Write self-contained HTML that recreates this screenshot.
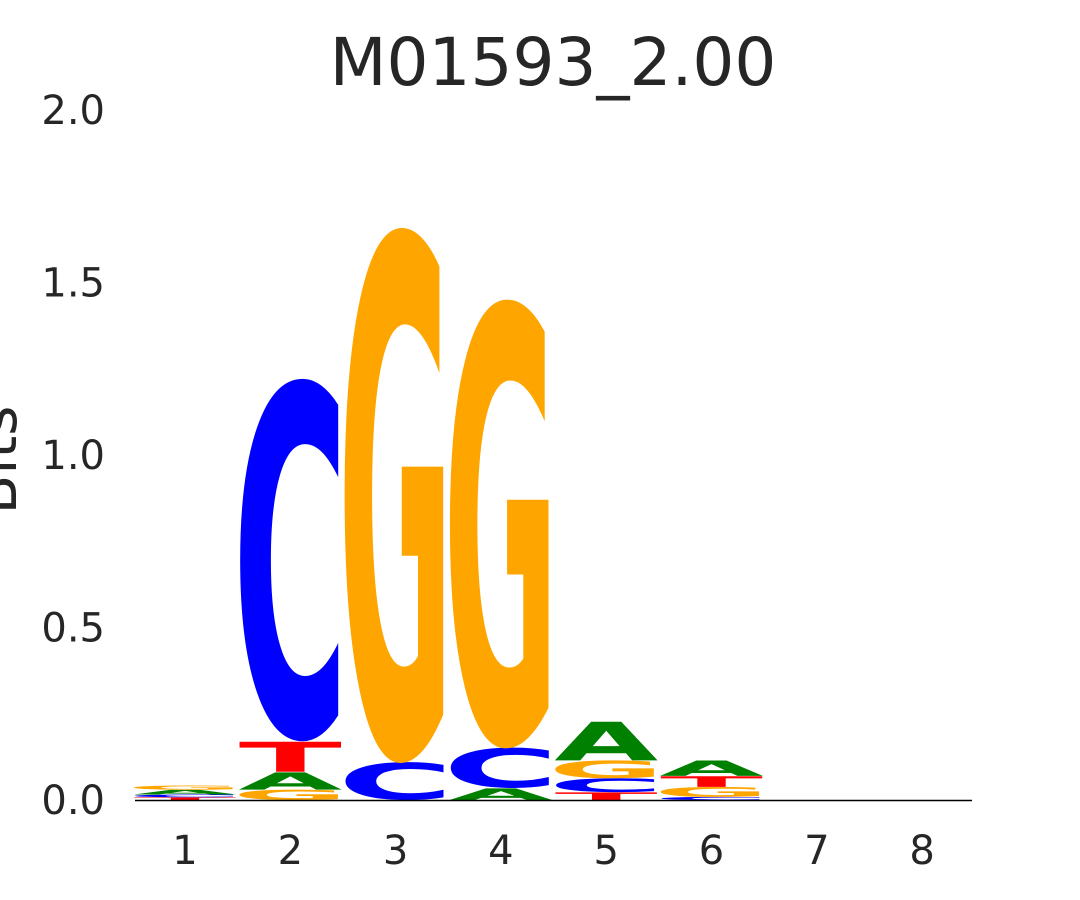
<!DOCTYPE html>
<html><head><meta charset="utf-8"><style>
html,body{margin:0;padding:0;background:#fff;width:1080px;height:900px;overflow:hidden;}
svg{display:block;font-family:"DejaVu Sans","Liberation Sans",sans-serif;overflow:hidden;}
</style></head><body>
<svg id="chart" width="1080" height="900" viewBox="0 0 1080 900">
  <text x="553" y="85" font-size="66" fill="#262626" text-anchor="middle">M01593_2.00</text>
  <text transform="translate(16,460) rotate(-90)" font-size="58" fill="#262626" text-anchor="middle">Bits</text>
  <g id="yticks"></g>
  <g id="xticks"></g>
  <g id="letters"></g>
  <line x1="135" y1="800.5" x2="972" y2="800.5" stroke="#000" stroke-width="1.5"/>
</svg>
<script>
const positions = [1,2,3,4,5,6,7,8];
const yTicks = [0.0,0.5,1.0,1.5,2.0];
// stacks bottom-to-top: [letter, bits]
const stacks = [
  [["T",0.008],["C",0.008],["A",0.014],["G",0.012]],
  [["G",0.03],["A",0.052],["T",0.09],["C",1.05]],
  [["C",0.11],["G",1.55]],
  [["A",0.035],["C",0.117],["G",1.3]],
  [["T",0.023],["C",0.04],["G",0.052],["A",0.116]],
  [["C",0.009],["G",0.029],["T",0.032],["A",0.046]],
  [],
  []
];
const colors = {A:"#008000",C:"#0000ff",G:"#ffa500",T:"#ff0000"};
const NS="http://www.w3.org/2000/svg";
const y0=800, pxPerBit=345;
const yScale = v => y0 - v*pxPerBit;
const xScale = p => 185 + (p-1)*105.3;
const colW = 100;
const yt=document.getElementById('yticks');
yTicks.forEach(v=>{
  const t=document.createElementNS(NS,'text');
  
  
  t.setAttribute('x',105);t.setAttribute('y',yScale(v)+14);
  t.setAttribute('font-size','40');t.setAttribute('fill','#262626');
  t.setAttribute('text-anchor','end');
  t.textContent=v.toFixed(1);yt.appendChild(t);
});
const xt=document.getElementById('xticks');
positions.forEach(p=>{
  const t=document.createElementNS(NS,'text');
  
  
  t.setAttribute('x',xScale(p));t.setAttribute('y',864);
  t.setAttribute('font-size','40');t.setAttribute('fill','#262626');
  t.setAttribute('text-anchor','middle');
  t.textContent=p;xt.appendChild(t);
});
const lg=document.getElementById('letters');
const capH=75.6;
const lenF={A:1.04,C:1.16,G:1.16,T:1.03};
const liftF={A:0,C:0.017,G:0.017,T:0};
stacks.forEach((st,i)=>{
  let cum=0;
  const x0=xScale(positions[i])-colW/2;
  st.forEach(([L,v])=>{
    const h=v*pxPerBit;
    const yb=yScale(cum)-h*liftF[L];
    cum+=v;
    if(h<=0) return;
    const t=document.createElementNS(NS,'text');
    
    
    const len=colW*lenF[L];
    t.setAttribute('x',-(len-colW)/2);t.setAttribute('y',0);
    t.setAttribute('font-size','100');t.setAttribute('font-weight','bold');
    t.setAttribute('fill',colors[L]);
    t.setAttribute('textLength',len);
    t.setAttribute('lengthAdjust','spacingAndGlyphs');
    t.setAttribute('transform','translate('+x0+','+yb+') scale(1,'+(h/capH)+')');
    t.textContent=L;lg.appendChild(t);
  });
});
</script>
</body></html>
